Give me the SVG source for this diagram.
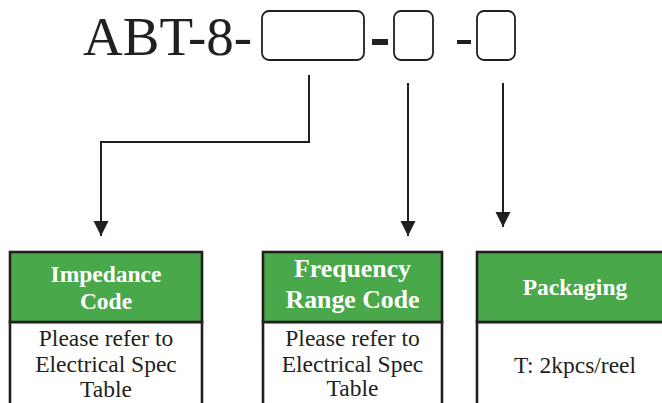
<svg xmlns="http://www.w3.org/2000/svg" width="662" height="403" viewBox="0 0 662 403">
<defs>
<style>
.code{font-family:"Liberation Serif","Times New Roman",serif;font-size:55px;fill:#231f20}
.slot{fill:#fff;stroke:#231f20;stroke-width:1.8}
.dash{fill:#231f20}
.conn{fill:none;stroke:#231f20;stroke-width:2}
.hdr{fill:#48a84a;stroke:#231f20;stroke-width:2.6}
.body{fill:#fff;stroke:#231f20;stroke-width:2.6}
.ht{font-family:"Liberation Serif","Times New Roman",serif;font-weight:bold;font-size:23.5px;fill:#fff;text-anchor:middle}
.ht2{font-size:25.8px}
.bt{font-family:"Liberation Serif","Times New Roman",serif;font-size:23.5px;fill:#231f20;text-anchor:middle}
</style>
<marker id="arr" markerUnits="userSpaceOnUse" markerWidth="16" markerHeight="16" viewBox="0 0 16 16" refX="15" refY="8" orient="auto">
<path d="M0,0.5 L15,8 L0,15.5 Z" fill="#231f20"/>
</marker>
</defs>
<rect width="662" height="403" fill="#fff"/>
<g id="partcode">
<text class="code" x="83" y="55">ABT-8-</text>
<rect class="slot" x="262" y="11" width="102" height="49" rx="7"/>
<rect class="dash" x="372" y="39" width="16" height="6"/>
<rect class="slot" x="394" y="11" width="39" height="49" rx="7"/>
<rect class="dash" x="457" y="40" width="14" height="4"/>
<rect class="slot" x="477" y="11" width="38" height="49" rx="7"/>
</g>
<g id="connectors">
<path class="conn" d="M309,75 V142 H101 V236" marker-end="url(#arr)"/>
<path class="conn" d="M408,83 V236" marker-end="url(#arr)"/>
<path class="conn" d="M503,83 V227" marker-end="url(#arr)"/>
</g>
<g id="impedance">
<rect class="body" x="10" y="322" width="192" height="90"/>
<rect class="hdr" x="10" y="252" width="192" height="70"/>
<text class="ht" x="106" y="282">Impedance</text>
<text class="ht" x="106" y="309">Code</text>
<text class="bt" x="106" y="346">Please refer to</text>
<text class="bt" x="106" y="372">Electrical Spec</text>
<text class="bt" x="106" y="397">Table</text>
</g>
<g id="frequency">
<rect class="body" x="263" y="322" width="179" height="90"/>
<rect class="hdr" x="263" y="252" width="179" height="70"/>
<text class="ht ht2" x="352.5" y="277">Frequency</text>
<text class="ht ht2" x="352.5" y="308">Range Code</text>
<text class="bt" x="352.5" y="346">Please refer to</text>
<text class="bt" x="352.5" y="372">Electrical Spec</text>
<text class="bt" x="352.5" y="396">Table</text>
</g>
<g id="packaging">
<rect class="body" x="477" y="322" width="196" height="90"/>
<rect class="hdr" x="477" y="252" width="196" height="70"/>
<text class="ht" x="575" y="295">Packaging</text>
<text class="bt" x="575" y="373">T: 2kpcs/reel</text>
</g>
</svg>
